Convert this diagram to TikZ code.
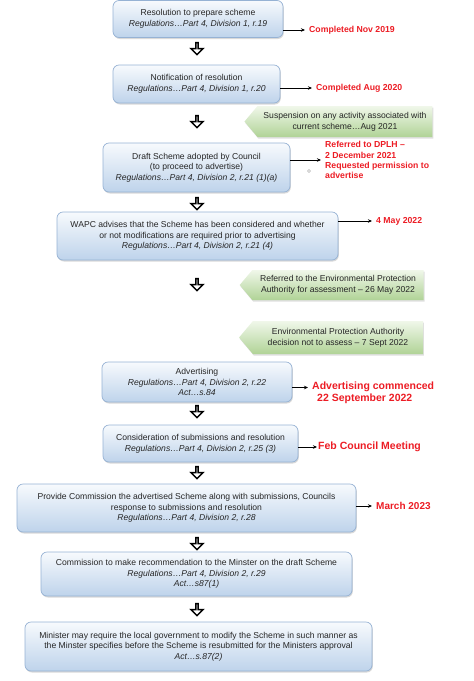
\documentclass[tikz,border=0pt]{standalone}
\usepackage{fontspec}
\setmainfont{Liberation Sans}
\usetikzlibrary{shapes.symbols,shapes.arrows,shadows,arrows.meta}
\definecolor{boxline}{RGB}{150,178,212}
\definecolor{boxtop}{RGB}{247,250,253}
\definecolor{boxbot}{RGB}{190,211,235}
\definecolor{notetop}{RGB}{240,247,234}
\definecolor{notebot}{RGB}{176,211,150}
\definecolor{datered}{RGB}{236,28,36}

\begin{document}
\begin{tikzpicture}[x=1pt,y=-1pt,
	stage/.style={draw=boxline,line width=0.7pt,rounded corners=6pt,top color=boxtop,bottom color=boxbot,
		drop shadow={shadow xshift=0.8pt,shadow yshift=-1.5pt,opacity=0.3},align=center,
		font=\fontsize{8.6}{10.6}\selectfont,text=black!85,inner sep=2pt},
	note/.style={signal,signal to=west,signal pointer angle=100,top color=notetop,bottom color=notebot,
		drop shadow={shadow xshift=0.8pt,shadow yshift=-1.5pt,opacity=0.25},align=center,
		font=\fontsize{8.6}{10.6}\selectfont,text=black!85,inner sep=2pt},
	date/.style={anchor=west,text=datered,font=\bfseries\fontsize{8.7}{10.2}\selectfont,align=left,inner xsep=4pt},
	bigdate/.style={date,font=\bfseries\fontsize{10.5}{12}\selectfont},
	hollow/.style={single arrow,rotate=-90,draw=black,line width=1.5pt,fill=white,inner sep=0pt,
		minimum height=12pt,minimum width=12pt,single arrow head extend=3pt},
	link/.style={-{Stealth[length=4pt,width=3.5pt]},line width=0.7pt}]
\useasboundingbox (0,0) rectangle (474,681);

% main steps
\node[stage,minimum width=170pt,minimum height=37pt] (s1) at (198,19) {Resolution to prepare scheme\\ \textit{Regulations…Part 4, Division 1, r.19}};
\node[stage,minimum width=167pt,minimum height=38pt] (s2) at (196.5,84) {Notification of resolution\\ \textit{Regulations…Part 4, Division 1, r.20}};
\node[stage,minimum width=187pt,minimum height=49pt] (s3) at (196.5,167.5) {Draft Scheme adopted by Council\\ (to proceed to advertise)\\ \textit{Regulations…Part 4, Division 2, r.21 (1)(a)}};
\node[stage,minimum width=281pt,minimum height=48pt] (s4) at (197.5,236) {WAPC advises that the Scheme has been considered and whether\\ or not modifications are required prior to advertising\\ \textit{Regulations…Part 4, Division 2, r.21 (4)}};
\node[stage,minimum width=190pt,minimum height=40pt] (s5) at (197,382) {Advertising\\ \textit{Regulations…Part 4, Division 2, r.22}\\ \textit{Act…s.84}};
\node[stage,minimum width=195pt,minimum height=37pt] (s6) at (200.5,443.5) {Consideration of submissions and resolution\\ \textit{Regulations…Part 4, Division 2, r.25 (3)}};
\node[stage,minimum width=339pt,minimum height=48pt] (s7) at (186.5,508) {Provide Commission the advertised Scheme along with submissions, Councils\\ response to submissions and resolution\\ \textit{Regulations…Part 4, Division 2, r.28}};
\node[stage,minimum width=311pt,minimum height=44pt] (s8) at (196.5,574) {Commission to make recommendation to the Minster on the draft Scheme\\ \textit{Regulations…Part 4, Division 2, r.29}\\ \textit{Act…s87(1)}};
\node[stage,minimum width=347pt,minimum height=49pt] (s9) at (198.5,646.5) {Minister may require the local government to modify the Scheme in such manner as\\ the Minster specifies before the Scheme is resubmitted for the Ministers approval\\ \textit{Act…s.87(2)}};

\foreach \y [count=\i] in {48,121,203,284,411,472,543,609}
	\node[hollow] (v\i) at (197,\y) {};

% side notes
\node[note,minimum width=188pt,minimum height=31pt] (n1) at (345,121.5) {Suspension on any activity associated with\\ current scheme…Aug 2021};
\node[note,minimum width=184pt,minimum height=30pt] (n2) at (338,285) {Referred to the Environmental Protection\\ Authority for assessment -- 26 May 2022};
\node[note,minimum width=184pt,minimum height=33pt] (n3) at (338,337.5) {Environmental Protection Authority\\ decision not to assess -- 7 Sept 2022};

% dates
\node[date] (d1) at (305,30) {Completed Nov 2019};
\node[date] (d2) at (312,88) {Completed Aug 2020};
\node[date] (d3) at (321,160) {Referred to DPLH --\\ 2 December 2021\\ Requested permission to\\ advertise};
\node[date] (d4) at (372,221) {4 May 2022};
\node[bigdate] (d5) at (308,393) {Advertising commenced\\ \hspace*{5pt}22 September 2022};
\node[bigdate,inner xsep=1pt] (d6) at (317,447) {Feb Council Meeting};
\node[bigdate,font=\bfseries\fontsize{10}{12}\selectfont] (d7) at (372,506) {March 2023};
\node[circle,draw=gray!60,inner sep=0pt,minimum size=3pt] (dot) at (309,171) {};

\coordinate (a5) at ([yshift=5.5pt]d5.west);
\foreach \s/\d in {s1/d1,s2/d2,s3/d3,s4/d4,s6/d6,s7/d7}
	\draw[link] (\s.east |- \d.west) -- (\d.west);
\draw[link] (s5.east |- a5) -- (a5);
\end{tikzpicture}
\end{document}
